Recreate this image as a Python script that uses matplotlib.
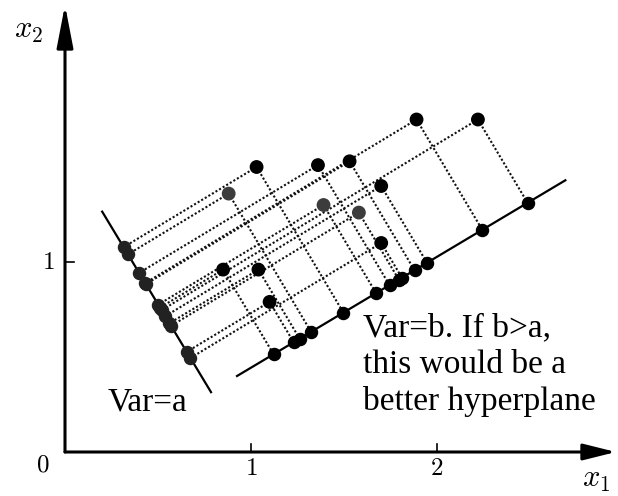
import numpy as np
import matplotlib.pyplot as plt
from matplotlib.patches import ArrowStyle

plt.rcParams['mathtext.fontset'] = 'cm'

# sample points (x1, x2)
pts_x1 = [1.89, 2.22, 1.03, 1.36, 1.53, 0.88, 1.70, 1.39, 1.58, 1.70, 0.85, 1.04, 1.10]
pts_x2 = [1.75, 1.75, 1.50, 1.51, 1.53, 1.36, 1.40, 1.30, 1.26, 1.10, 0.96, 0.96, 0.79]
grey_pts = [5, 7, 8]  # these dots look a bit lighter in the original

# the two candidate hyperplanes, given by their end points
lineA_x1 = [0.925, 2.69]
lineA_x2 = [0.40, 1.43]
lineB_x1 = [0.20, 0.785]
lineB_x2 = [1.265, 0.315]

xticks = [1, 2]
yticks = [1]

fig = plt.figure(figsize=(6.18, 4.96), dpi=100)
ax = fig.add_axes([0, 0, 1, 1])
ax.set_xlim(-65/186, 553/186)
ax.set_ylim(-44/190, 452/190)
ax.axis('off')

T = ax.transData
P = T.transform(np.column_stack([pts_x1, pts_x2]))

def project(P, xs, ys):
    # orthogonal projection done in screen space so right angles look right
    a, b = T.transform(np.column_stack([xs, ys]))
    d = (b - a)/np.linalg.norm(b - a)
    t = (P - a) @ d
    return T.inverted().transform(a + np.outer(t, d))

projA = project(P, lineA_x1, lineA_x2)
projB = project(P, lineB_x1, lineB_x2)
pts = np.column_stack([pts_x1, pts_x2])

dot = dict(color='#111111', lw=1.5, ls=(0, (1.0, 1.0)), zorder=1)
for i in range(len(pts)):
    ax.plot([pts[i, 0], projA[i, 0]], [pts[i, 1], projA[i, 1]], **dot)
    ax.plot([pts[i, 0], projB[i, 0]], [pts[i, 1], projB[i, 1]], **dot)

ax.plot(lineA_x1, lineA_x2, color='k', lw=1.6, zorder=2)
ax.plot(lineB_x1, lineB_x2, color='k', lw=1.6, zorder=2)

cols = ['#3c3c3c' if i in grey_pts else 'k' for i in range(len(pts))]
ax.scatter(pts[:, 0], pts[:, 1], s=80, c=cols, zorder=3)
ax.scatter(projA[:, 0], projA[:, 1], s=75, c='k', zorder=3)
ax.scatter(projB[:, 0], projB[:, 1], s=75, c='#222222', zorder=3)

# axes with arrow heads
head = ArrowStyle('-|>', head_length=20, head_width=5)
ax.annotate('', xy=(2.962, 0), xytext=(0, 0),
            arrowprops=dict(arrowstyle=head, mutation_scale=1, lw=2.2, color='k', shrinkA=0, shrinkB=0))
head2 = ArrowStyle('-|>', head_length=26, head_width=5)
ax.annotate('', xy=(0, 2.353), xytext=(0, 0),
            arrowprops=dict(arrowstyle=head2, mutation_scale=1, lw=2.2, color='k', shrinkA=0, shrinkB=0))

for t in xticks:
    ax.plot([t, t], [0, 0.04], color='k', lw=1.2)
    ax.text(t, -0.084, r'$%d$' % t, ha='center', va='center', fontsize=18)
for t in yticks:
    ax.plot([0, 0.05], [t, t], color='k', lw=1.2)
    ax.text(-0.091, t, r'$%d$' % t, ha='center', va='center', fontsize=18)
ax.text(-0.118, -0.068, r'$0$', ha='center', va='center', fontsize=18)

ax.text(2.855, -0.147, r'$x_1$', ha='center', va='center', fontsize=22)
ax.text(-0.194, 2.221, r'$x_2$', ha='center', va='center', fontsize=22)

serif = dict(family='Liberation Serif', fontsize=24, va='baseline', ha='left')
ax.text(0.231, 0.221, 'Var=a', **serif)
ax.text(1.602, 0.611, 'Var=b. If b>a,', **serif)
ax.text(1.602, 0.416, 'this would be a', **serif)
ax.text(1.602, 0.221, 'better hyperplane', **serif)

plt.savefig('out.png', dpi=100)
